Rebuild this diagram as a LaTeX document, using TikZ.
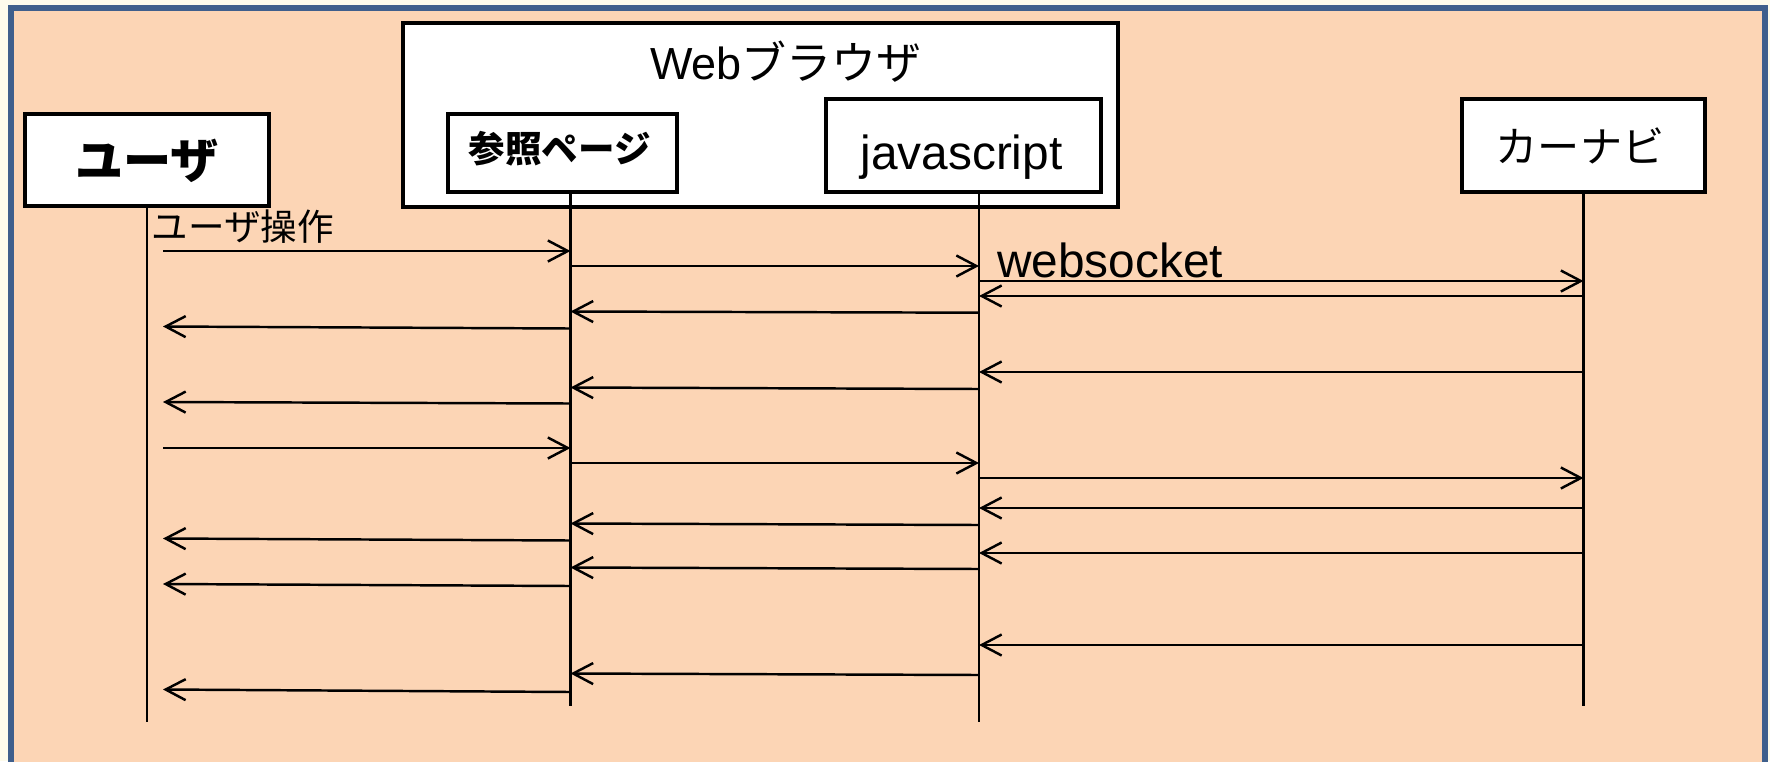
\documentclass[tikz,border=0pt]{standalone}
\usepackage{fontspec}
\setmainfont{Liberation Sans}
\newfontfamily\jp{Noto Sans CJK JP}
\usetikzlibrary{arrows.meta}

\definecolor{haikei}{HTML}{FDFBEC}
\definecolor{waku}{HTML}{3F5F8C}
\definecolor{momo}{HTML}{FCD5B5}

\tikzset{
  box/.style={draw, line width=0.95pt, fill=white, inner sep=0pt},
  lbl/.style={inner sep=0pt},
  life/.style={line width=0.6pt},
  msg/.style={line width=0.7pt, -{Straight Barb[length=2mm,width=2.1mm]}},
}

\begin{document}
\begin{tikzpicture}[x=0.1mm,y=-0.1mm]
	\useasboundingbox (0,0) rectangle (1770,761);
	\clip (0,0) rectangle (1770,761);
	
	% 背景と枠
	\fill[haikei] (0,0) rectangle (1770,761);
	\draw[waku, fill=momo, line width=1.7pt] (11,8) rectangle (1765,800);
	
	% 箱
	\node[box, minimum width=71.5mm, minimum height=18.4mm] (browser) at (760.5,115) {};
	\node[box, minimum width=24.4mm, minimum height=9.2mm] (user) at (147,160) {};
	\node[box, minimum width=22.9mm, minimum height=7.8mm] (page) at (562.5,153) {};
	\node[box, minimum width=27.5mm, minimum height=9.3mm] (js) at (963.5,145.5) {};
	\node[box, minimum width=24.3mm, minimum height=9.3mm] (car) at (1583.5,145.5) {};
	
	% 箱の文字
	\node[lbl, font=\fontsize{12.8}{15}\selectfont] (browserT) at (786,61.5) {Web{\jp ブラウザ}};
	\node[lbl, font=\jp\bfseries\fontsize{13.7}{16}\selectfont] (userT) at (147,161) {ユーザ};
	\node[lbl, font=\jp\bfseries\fontsize{10.4}{12}\selectfont] (pageT) at (559.5,148.5) {参照ページ};
	\node[lbl, font=\fontsize{13.6}{16}\selectfont] (jsT) at (961.5,157.5) {javascript};
	\node[lbl, font=\jp\fontsize{12}{14}\selectfont] (carT) at (1580,146) {カーナビ};
	
	% ライフライン
	\coordinate (lu) at ([xshift=1.6mm]user.south);
	\coordinate (lp) at ([xshift=0.8mm]page.south);
	\coordinate (lj) at ([xshift=1.55mm]js.south);
	\coordinate (lc) at (car.south);
	\draw[life] (user.south) -- ++(0,514);
	\draw[life] (lp) -- ++(0,512);
	\draw[life] (lj) -- ++(0,528);
	\draw[life] (lc) -- ++(0,512);
	
	% メッセージ
	\foreach \a/\b/\ya/\yb in {
		lu/lp/251/251, lp/lj/266/266, lj/lc/281/281, lc/lj/296/296,
		lj/lp/312.7/311.5, lp/lu/328.5/326.5,
		lc/lj/372/372, lj/lp/389/387.5, lp/lu/403.5/402,
		lu/lp/448/448, lp/lj/463/463, lj/lc/478/478, lc/lj/508/508,
		lj/lp/525/523.5, lp/lu/540.5/538.5,
		lc/lj/553/553, lj/lp/569/567.5, lp/lu/586/584,
		lc/lj/645/645, lj/lp/675/673.5, lp/lu/692/689.5} {
		\draw[msg] (\a |- 0,\ya) -- (\b |- 0,\yb);
	}
	
	% ラベル
	\node[lbl, font=\jp\fontsize{10.4}{12}\selectfont] (sousa) at (243,226.5) {ユーザ操作};
	\node[lbl, font=\fontsize{13.6}{16}\selectfont] (ws) at (1110,260) {websocket};
\end{tikzpicture}
\end{document}
